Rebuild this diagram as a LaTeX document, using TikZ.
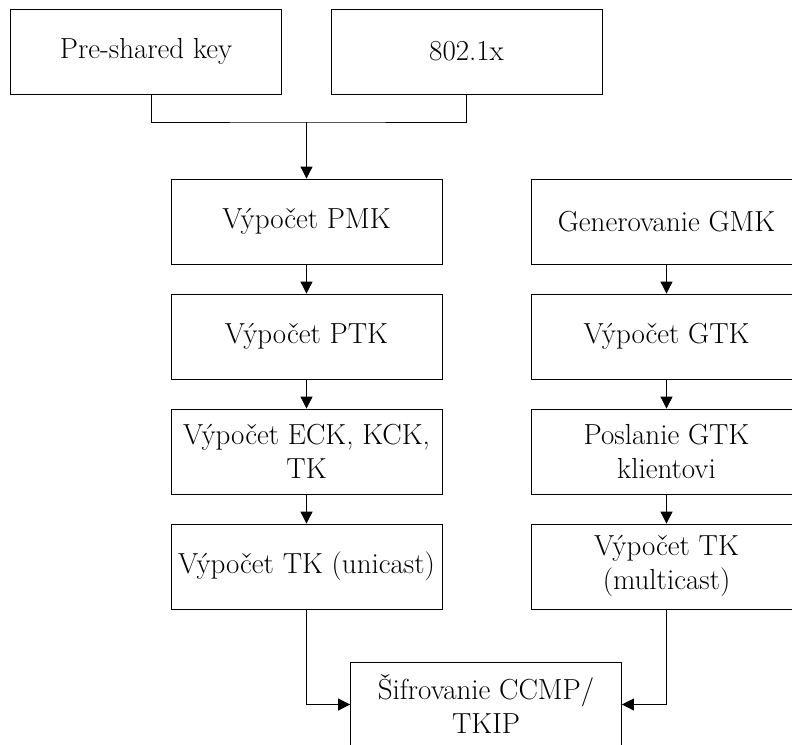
\documentclass[tikz,border=0pt]{standalone}
\usepackage{fontspec}
\setmainfont{Latin Modern Roman}
\usetikzlibrary{arrows.meta,calc}
\begin{document}
\begin{tikzpicture}[x=1pt,y=-1pt,
  box/.style={draw=black,line width=0.8pt,fill=white,minimum width=271pt,minimum height=85pt,
    align=center,inner sep=0pt,font=\fontsize{29}{34}\selectfont},
  conn/.style={line width=0.8pt},
  arr/.style={conn,-{Triangle[length=12pt,width=12pt]}}]
\useasboundingbox (0,0) rectangle (792,744);
\node[box] (psk) at (146,51.5) {Pre-shared key};
\node[box] (dot) at (466.5,51.5) {802.1x};
\node[box] (pmk) at (306.5,221.5) {Výpočet PMK};
\node[box] (ptk) at (306.5,336.5) {Výpočet PTK};
\node[box] (eck) at (306.5,451.5) {Výpočet ECK, KCK,\\TK};
\node[box] (uni) at (306.5,566.5) {Výpočet TK (unicast)};
\node[box] (gmk) at (666.5,221.5) {Generovanie GMK};
\node[box] (gtk) at (666.5,336.5) {Výpočet GTK};
\node[box] (pos) at (666.5,451.5) {Poslanie GTK\\klientovi};
\node[box] (mul) at (666.5,566.5) {Výpočet TK\\(multicast)};
\node[box] (enc) at (486,704.5) {Šifrovanie CCMP/\\TKIP};
\coordinate (j) at (306.5,122);
\draw[conn] ($(psk.south)+(5,0)$) |- (j) -| (dot.south);
\draw[arr] (j) -- (pmk.north);
\draw[arr] (pmk) -- (ptk);
\draw[arr] (ptk) -- (eck);
\draw[arr] (eck) -- (uni);
\draw[arr] (gmk) -- (gtk);
\draw[arr] (gtk) -- (pos);
\draw[arr] (pos) -- (mul);
\draw[arr] (uni.south) |- (enc.west);
\draw[arr] (mul.south) |- (enc.east);
\end{tikzpicture}
\end{document}
